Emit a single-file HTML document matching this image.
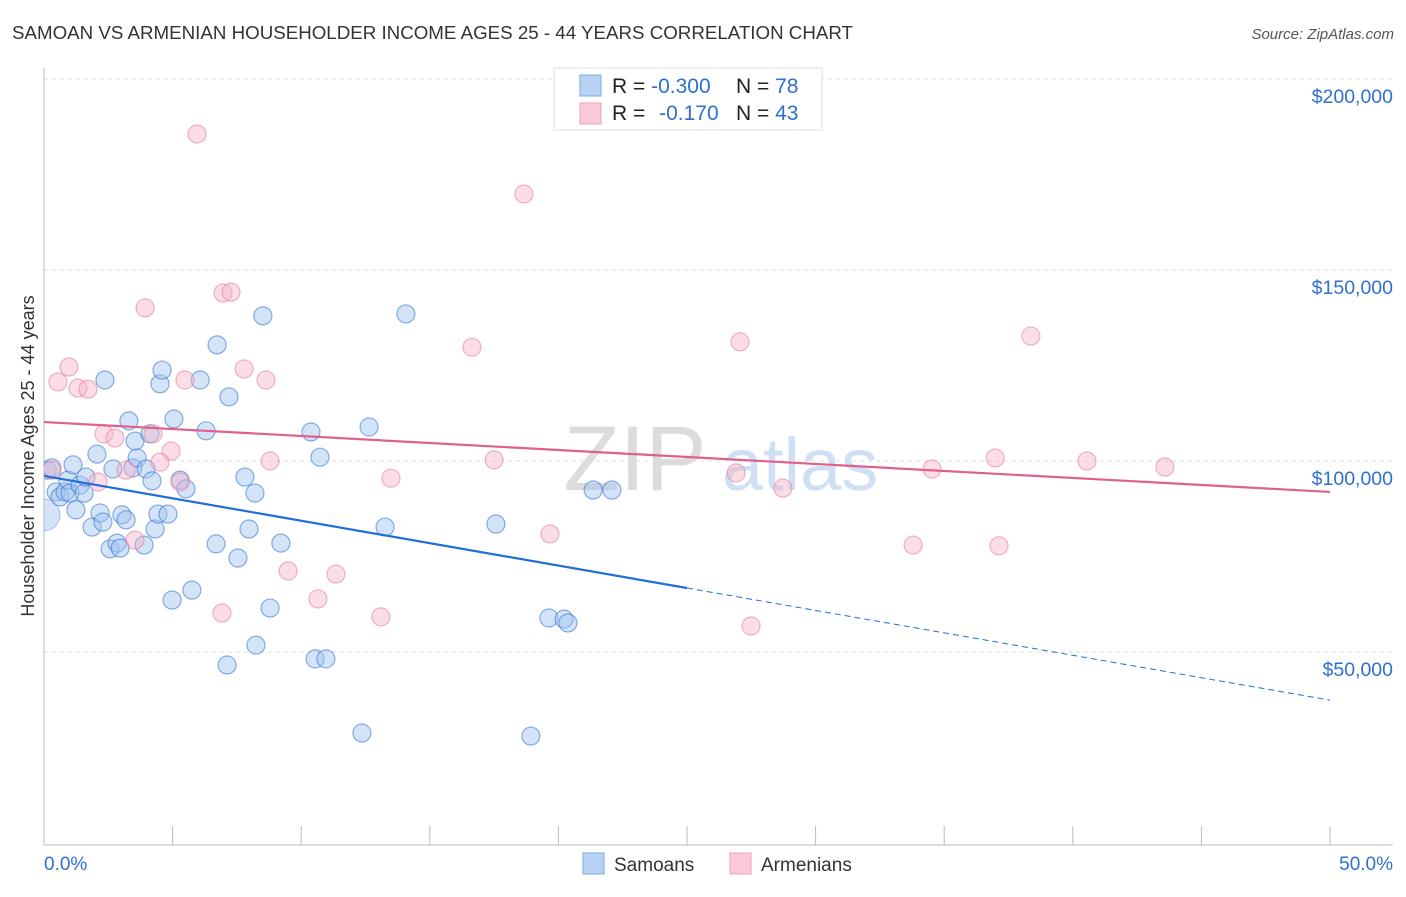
<!DOCTYPE html>
<html><head><meta charset="utf-8"><style>
body{margin:0;background:#fff;font-family:"Liberation Sans",sans-serif;}
svg text{font-family:"Liberation Sans",sans-serif;}
</style></head><body>
<svg id="chart" width="1406" height="892" xmlns="http://www.w3.org/2000/svg">
<defs><clipPath id="plotclip"><rect x="44" y="60" width="1360" height="785"/></clipPath></defs>
<text x="12" y="39" font-size="18" fill="#333" textLength="841" lengthAdjust="spacingAndGlyphs">SAMOAN VS ARMENIAN HOUSEHOLDER INCOME AGES 25 - 44 YEARS CORRELATION CHART</text>
<text x="1394" y="39" font-size="15" fill="#555" font-style="italic" text-anchor="end">Source: ZipAtlas.com</text>
<g>
<text x="635" y="490" font-size="92" fill="#dcdcdc" text-anchor="middle" font-family="Liberation Serif">ZIP</text>
<text x="800" y="490" font-size="74" fill="#cfe0f5" text-anchor="middle">atlas</text>
</g>
<g id="grid"></g>
<g id="axes"></g>
<g id="marks" clip-path="url(#plotclip)"></g>
<text transform="translate(34,456) rotate(-90)" font-size="18" fill="#333" text-anchor="middle">Householder Income Ages 25 - 44 years</text>
<g>
<rect x="554" y="68" width="268" height="62" fill="#fff" stroke="#ddd"/>
<rect x="580" y="75" width="21" height="21" fill="#b9d3f5" stroke="#7aa8e6"/>
<rect x="580" y="103" width="21" height="21" fill="#f9c9d7" stroke="#eba3b9"/>
<text x="612" y="93" font-size="21" fill="#222">R = <tspan fill="#2f6fd1">-0.300</tspan></text>
<text x="736" y="93" font-size="21" fill="#222">N = <tspan fill="#2f6fd1">78</tspan></text>
<text x="612" y="120" font-size="21" fill="#222">R = <tspan fill="#2f6fd1" dx="8">-0.170</tspan></text>
<text x="736" y="120" font-size="21" fill="#222">N = <tspan fill="#2f6fd1">43</tspan></text>
</g>
<g>
<rect x="583" y="853" width="21" height="21" fill="#b9d3f5" stroke="#7aa8e6"/>
<text x="614" y="871" font-size="19" fill="#333">Samoans</text>
<rect x="730" y="853" width="21" height="21" fill="#f9c9d7" stroke="#eba3b9"/>
<text x="761" y="871" font-size="19" fill="#333">Armenians</text>
</g>
</svg>
<script>
const yTicks=[50,100,150,200];
const yTickLabels=["$50,000","$100,000","$150,000","$200,000"];
const xTicks=[0,5,10,15,20,25,30,35,40,45,50];
const samoanX=[0.12,0.31,0.47,0.62,0.82,0.93,1.13,1.01,1.24,1.40,1.56,1.63,1.87,2.06,2.18,2.29,2.37,2.57,2.68,2.84,2.96,3.03,3.19,3.30,3.46,3.54,3.62,3.89,3.97,4.12,4.20,4.32,4.43,4.51,4.59,4.82,4.98,5.05,5.29,5.52,5.75,6.07,6.30,6.69,6.73,7.12,7.19,7.54,7.81,7.97,8.20,8.24,8.51,8.79,9.21,10.38,10.54,10.73,10.96,12.36,12.64,13.26,14.07,17.57,18.93,19.63,20.22,20.37,21.35,22.08];
const samoanY=[97.6,98.2,91.9,90.6,91.9,95.0,99.0,91.6,87.2,93.7,91.6,95.8,82.7,101.8,86.4,84.0,121.2,77.0,97.9,78.5,77.2,85.9,84.6,110.5,98.2,105.2,100.8,78.0,97.9,107.1,94.8,82.2,86.1,120.2,123.8,86.1,63.6,111.0,95.0,92.7,66.2,121.2,107.9,78.3,130.4,46.6,116.8,74.6,95.8,82.2,91.6,51.8,138.0,61.5,78.5,107.6,48.2,101.0,48.2,28.8,108.9,82.7,138.5,83.5,28.0,58.9,58.6,57.6,92.4,92.4];
const armenianX=[5.95,18.66,3.93,6.96,7.27,0.97,0.54,1.32,1.71,5.48,7.78,8.63,16.64,27.06,38.37,2.33,2.76,4.24,4.94,4.51,0.31,3.19,2.10,5.29,8.79,13.49,17.50,3.54,9.49,11.35,10.65,6.92,13.10,19.67,27.49,28.73,26.91,34.53,36.98,40.55,43.58,33.79,37.13];
const armenianY=[185.6,169.9,140.1,144.0,144.2,124.6,120.7,119.1,118.8,121.2,124.1,121.2,129.8,131.2,132.7,107.1,106.0,107.1,102.6,99.7,97.6,97.6,94.5,94.5,100.0,95.5,100.3,79.3,71.2,70.4,63.9,60.2,59.2,80.9,56.8,92.9,96.9,97.9,100.8,100.0,98.4,78.0,77.8];
const samoanTrend=[96.1,37.4];
const armenianTrend=[110.2,91.9];
const NS="http://www.w3.org/2000/svg";
const X=v=>44+v*25.72;
const Y=v=>79+(200-v)*3.82;
function mk(tag,attrs,parent){const e=document.createElementNS(NS,tag);for(const k in attrs)e.setAttribute(k,attrs[k]);parent.appendChild(e);return e;}
const grid=document.getElementById('grid'),axes=document.getElementById('axes'),marks=document.getElementById('marks');
yTicks.forEach((t,i)=>{
 const l=mk('line',{x1:44,x2:1393,y1:Y(t),y2:Y(t),stroke:'#ddd','stroke-dasharray':'4,4'},grid);
 
 
 const tx=mk('text',{x:1393,y:Y(t)+24,'font-size':19.5,fill:'#2f6fd1','text-anchor':'end'},axes);
 tx.textContent=yTickLabels[i];
 
 
});
const ya=mk('line',{x1:44,x2:44,y1:68,y2:845,stroke:'#bbb'},axes);


const xa=mk('line',{x1:44,x2:1393,y1:845,y2:845,stroke:'#bbb'},axes);


xTicks.forEach(t=>{
 const l=mk('line',{x1:X(t),x2:X(t),y1:826,y2:845,stroke:'#bbb'},axes);
 
 
});
const x0=mk('text',{x:44,y:870,'font-size':19,fill:'#2f6fd1'},axes);x0.textContent='0.0%';


const x1=mk('text',{x:1393,y:870,'font-size':19,fill:'#2f6fd1','text-anchor':'end'},axes);x1.textContent='50.0%';


const big=mk('circle',{cx:X(0),cy:Y(85.9),r:16,fill:'rgba(160,196,240,0.45)',stroke:'rgba(90,140,215,0.5)'},marks);


samoanX.forEach((v,i)=>{
 const c=mk('circle',{cx:X(v),cy:Y(samoanY[i]),r:9,fill:'rgba(160,196,240,0.45)',stroke:'rgba(60,120,210,0.6)','stroke-width':1.2},marks);
 
 
});
armenianX.forEach((v,i)=>{
 const c=mk('circle',{cx:X(v),cy:Y(armenianY[i]),r:9,fill:'rgba(245,180,200,0.45)',stroke:'rgba(230,130,160,0.6)','stroke-width':1.2},marks);
 
 
});
const yAt=(tr,x)=>tr[0]+(tr[1]-tr[0])*x/50;
const bt=mk('line',{x1:X(0),y1:Y(samoanTrend[0]),x2:X(25),y2:Y(yAt(samoanTrend,25)),stroke:'#1f6fd6','stroke-width':2.2},marks);


const bd=mk('line',{x1:X(25),y1:Y(yAt(samoanTrend,25)),x2:X(50),y2:Y(samoanTrend[1]),stroke:'#1f6fd6','stroke-width':1,'stroke-dasharray':'6,4'},marks);


const pt=mk('line',{x1:X(0),y1:Y(armenianTrend[0]),x2:X(50),y2:Y(armenianTrend[1]),stroke:'#e0608a','stroke-width':2.2},marks);


</script>
</body></html>
